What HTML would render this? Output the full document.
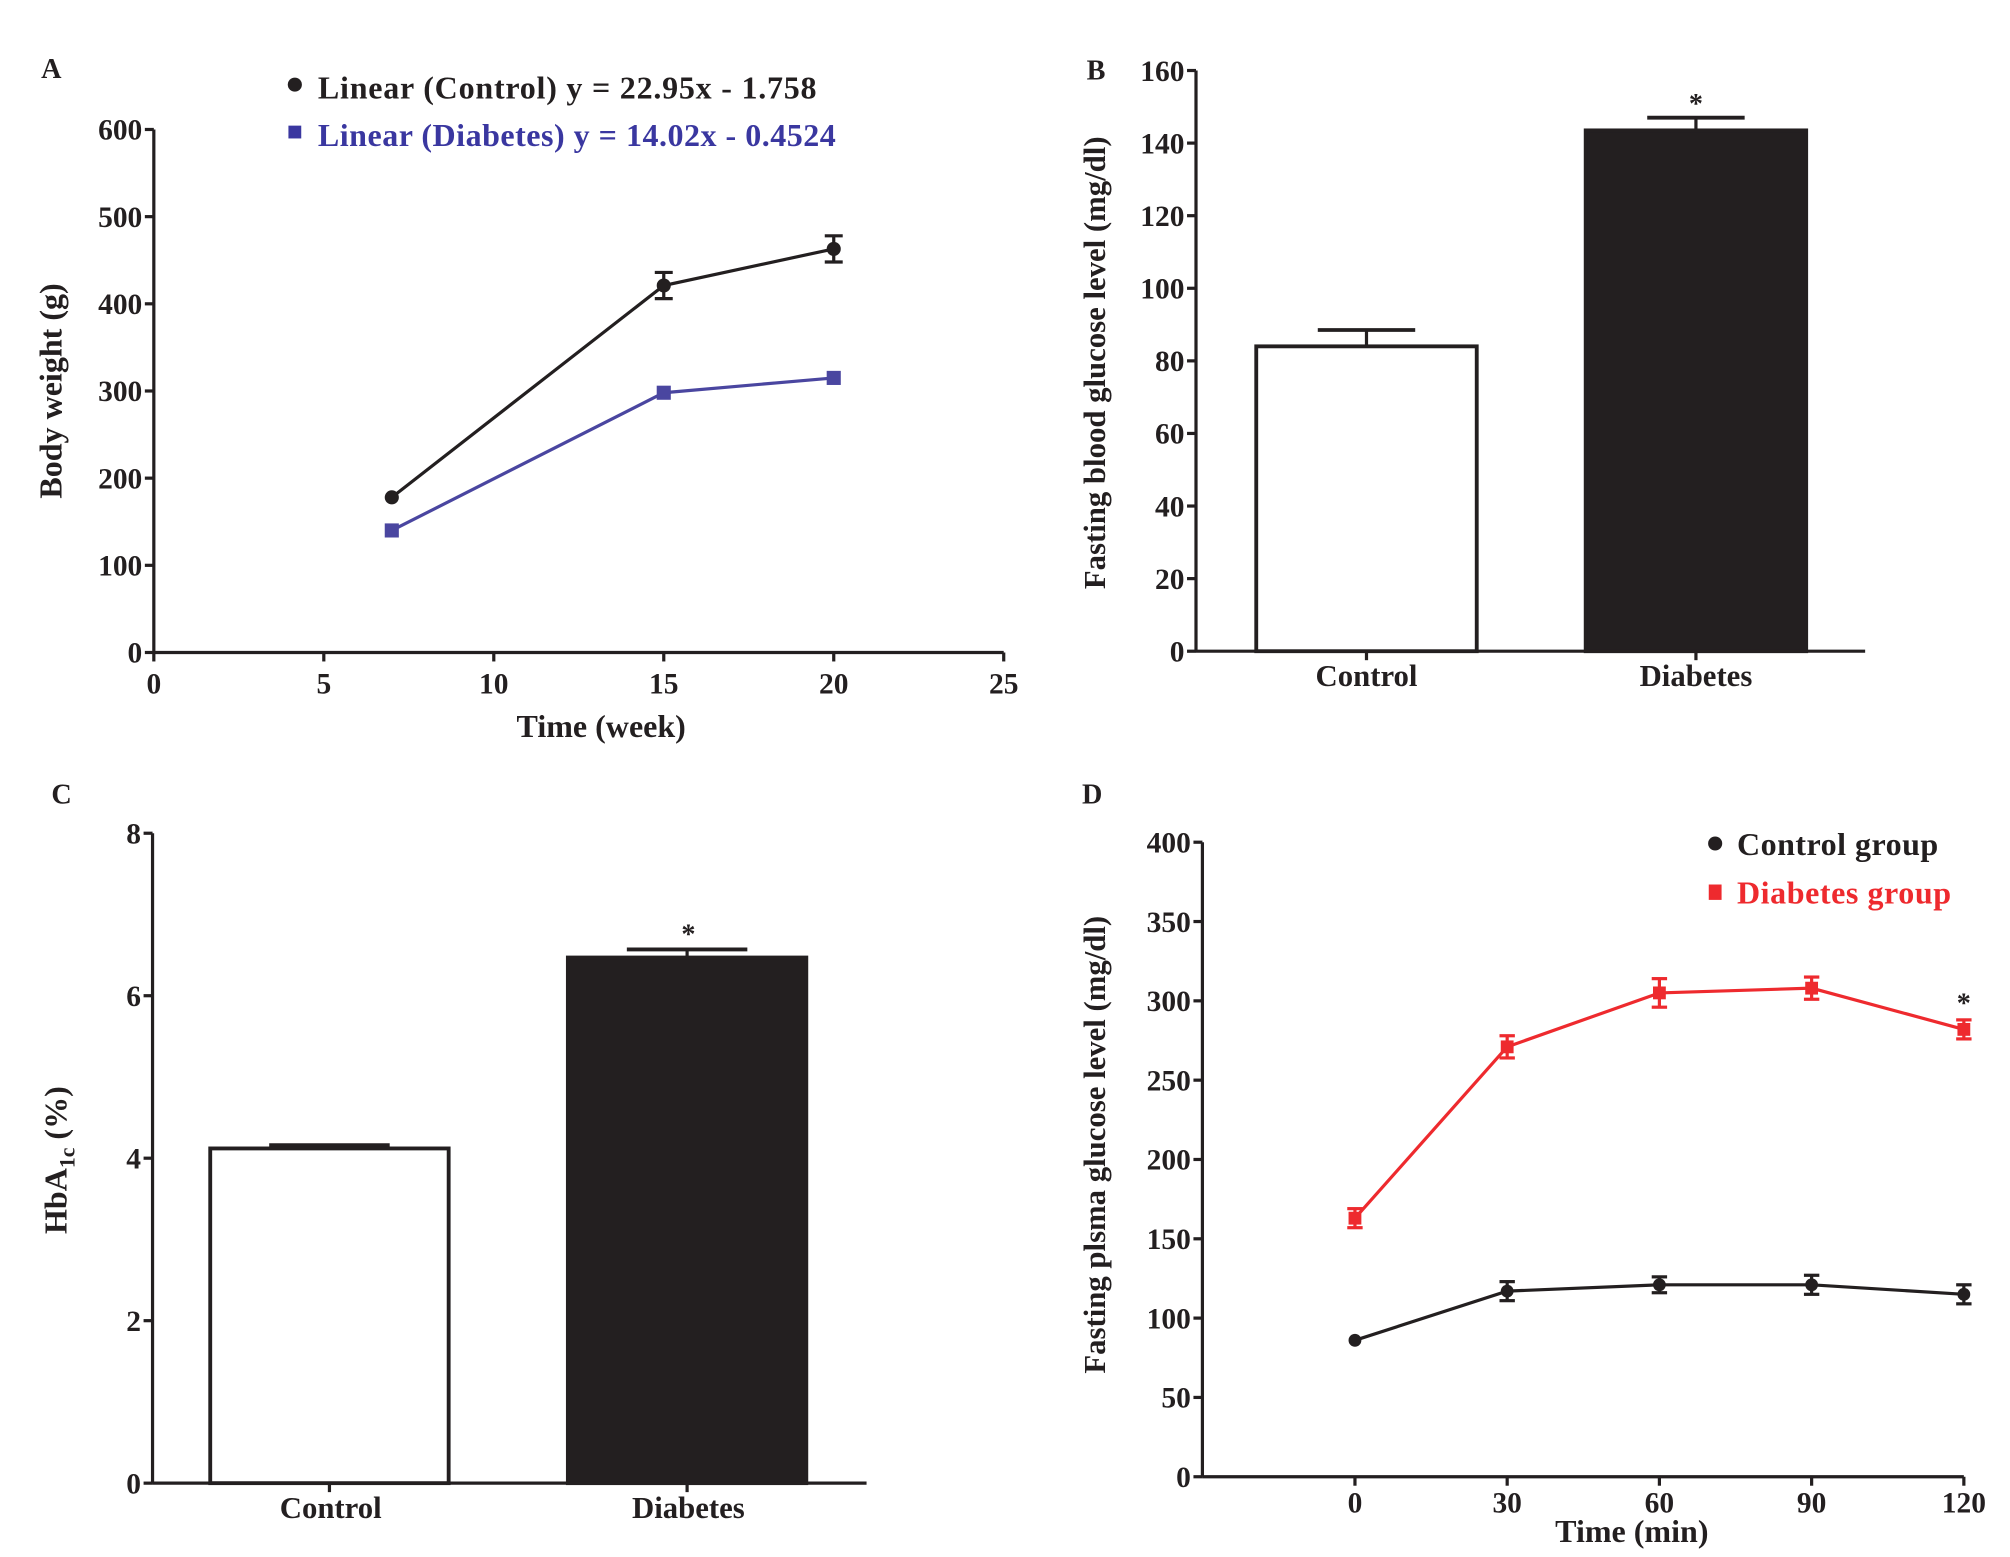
<!DOCTYPE html>
<html><head><meta charset="utf-8"><style>
html,body{margin:0;padding:0;background:#fff;}
svg{display:block;font-family:"Liberation Serif",serif;font-weight:bold;}
</style></head><body>
<svg id="fig" width="2010" height="1557" viewBox="0 0 1568 1214.6" xmlns="http://www.w3.org/2000/svg"></svg>
<script>
// Panel A data
const aWeeks = [7, 15, 20];
const aControl = [178, 421, 463];
const aControlErr = [4, 15, 15];
const aDiabetes = [140, 298, 315];
const aXTicks = [0, 5, 10, 15, 20, 25];
const aYTicks = [0, 100, 200, 300, 400, 500, 600];
// Panel B data
const bCategories = ["Control", "Diabetes"];
const bValues = [84, 143.5];
const bErr = [4.5, 3.5];
const bYTicks = [0, 20, 40, 60, 80, 100, 120, 140, 160];
// Panel C data
const cCategories = ["Control", "Diabetes"];
const cValues = [4.12, 6.47];
const cErr = [0.04, 0.1];
const cYTicks = [0, 2, 4, 6, 8];
// Panel D data
const dTimes = [0, 30, 60, 90, 120];
const dControl = [86, 117, 121, 121, 115];
const dControlErr = [2, 6, 5, 6, 6];
const dDiabetes = [163, 271, 305, 308, 282];
const dDiabetesErr = [6, 7, 9, 7, 6];
const dXTicks = [0, 30, 60, 90, 120];
const dYTicks = [0, 50, 100, 150, 200, 250, 300, 350, 400];

const NS = "http://www.w3.org/2000/svg";
const svg = document.getElementById("fig");
function mk(tag, attrs, parent, text){
  const e = document.createElementNS(NS, tag);
  for (const k in attrs) e.setAttribute(k, attrs[k]);
  if (text !== undefined) e.textContent = text;
  (parent || svg).appendChild(e);
  return e;
}
function lin(d0, d1, r0, r1){ return v => r0 + (v - d0) * (r1 - r0) / (d1 - d0); }
function line(x1,y1,x2,y2,stroke,w,parent){ return mk("line",{x1,y1,x2,y2,stroke,"stroke-width":w},parent); }
function errbar(x,yTop,yBot,cap,color,parent){
  line(x,yTop,x,yBot,color,2.5,parent);
  line(x-cap,yTop,x+cap,yTop,color,2.5,parent);
  line(x-cap,yBot,x+cap,yBot,color,2.5,parent);
}
function yAxis(g, x, sy, ticks, yTop, yBot, fs){
  line(x, yTop, x, yBot, "#231f20", 2.5, g);
  ticks.forEach(t => {
    const y = sy(t);
    line(x-7, y, x, y, "#231f20", 2.5, g);
    const tl = mk("text",{x:x-9,y:y+8,"text-anchor":"end","font-size":fs,fill:"#231f20"},g,String(t));
    
    
  });
}
function label(g, txt, x, y, fs, name, anchor, rot, color, tl){
  const attrs = {x, y, "font-size":fs, fill: color || "#231f20", "text-anchor": anchor || "middle"};
  if (rot) attrs.transform = "rotate(-90 "+x+" "+y+")";
  if (tl) { attrs.textLength = tl; attrs.lengthAdjust = "spacing"; }
  const t = mk("text", attrs, g, txt);
  
  
  return t;
}

// ===== Panel A =====
(function(){
  const g = mk("g",{});
  
  
  const sx = lin(0,25,120,783), sy = lin(0,600,509,101);
  label(g,"A",40,61,22,"panel-a-letter");
  yAxis(g,120,sy,aYTicks,101,509,23);
  line(120,509,783,509,"#231f20",2.5,g);
  aXTicks.forEach(t => {
    line(sx(t),509,sx(t),516,"#231f20",2.5,g);
    label(g,String(t),sx(t),541,23,"x-tick-label");
  });
  label(g,"Time (week)",469,575,25,"x-axis-title");
  label(g,"Body weight (g)",48,305,25,"y-axis-title","middle",true);
  const pc = aWeeks.map((w,i)=>sx(w)+","+sy(aControl[i])).join(" ");
  const l1 = mk("polyline",{points:pc,fill:"none",stroke:"#231f20","stroke-width":2.5},g);
  
  
  aWeeks.forEach((w,i)=>{
    if (aControlErr[i] > 5) errbar(sx(w), sy(aControl[i]+aControlErr[i]), sy(aControl[i]-aControlErr[i]), 7, "#231f20", g);
    const c = mk("circle",{cx:sx(w),cy:sy(aControl[i]),r:5.5,fill:"#231f20"},g);
    
    
  });
  const pd = aWeeks.map((w,i)=>sx(w)+","+sy(aDiabetes[i])).join(" ");
  const l2 = mk("polyline",{points:pd,fill:"none",stroke:"#4a46a0","stroke-width":2.5},g);
  
  
  aWeeks.forEach((w,i)=>{
    const r = mk("rect",{x:sx(w)-5.5,y:sy(aDiabetes[i])-5.5,width:11,height:11,fill:"#4a46a0"},g);
    
    
  });
  const lc = mk("circle",{cx:230,cy:66,r:5.5,fill:"#231f20"},g);
  
  
  label(g,"Linear (Control)  y = 22.95x - 1.758",248,77,25,"legend-control","start",false,null,389);
  const ld = mk("rect",{x:225,y:98,width:10,height:10,fill:"#3a37a0"},g);
  
  
  label(g,"Linear (Diabetes) y = 14.02x - 0.4524",248,114,25,"legend-diabetes","start",false,"#3a37a0",404);
})();

// ===== Panel B =====
(function(){
  const g = mk("g",{});
  
  
  const sy = lin(0,160,508,55);
  const centers = [1066, 1323], bw = 172;
  label(g,"B",855,62,22,"panel-b-letter");
  yAxis(g,933,sy,bYTicks,55,508,23);
  line(933,508,1455,508,"#231f20",2.5,g);
  bCategories.forEach((c,i)=>{
    const x = centers[i];
    errbar(x, sy(bValues[i]+bErr[i]), sy(bValues[i]), 0, "#231f20", g);
    line(x-38, sy(bValues[i]+bErr[i]), x+38, sy(bValues[i]+bErr[i]), "#231f20", 3, g);
    const r = mk("rect",{x:x-bw/2,y:sy(bValues[i]),width:bw,height:508-sy(bValues[i]),fill:i?"#231f20":"#fff",stroke:"#231f20","stroke-width":3},g);
    
    
    line(x,508,x,515,"#231f20",2.5,g);
    label(g,c,x,535,24,"x-tick-label");
  });
  label(g,"*",1323,88,22,"significance-star");
  label(g,"Fasting blood glucose level (mg/dl)",862,283,24,"y-axis-title","middle",true);
})();

// ===== Panel C =====
(function(){
  const g = mk("g",{});
  
  
  const sy = lin(0,8,1157,650);
  const centers = [257, 536], bw = 186;
  label(g,"C",48,627,22,"panel-c-letter");
  yAxis(g,119,sy,cYTicks,650,1157,23);
  line(119,1157,676,1157,"#231f20",2.5,g);
  cCategories.forEach((c,i)=>{
    const x = centers[i];
    const top = sy(cValues[i]+cErr[i]);
    line(x,top,x,sy(cValues[i]),"#231f20",2.5,g);
    line(x-47,top,x+47,top,"#231f20",3,g);
    const r = mk("rect",{x:x-bw/2,y:sy(cValues[i]),width:bw,height:1157-sy(cValues[i]),fill:i?"#231f20":"#fff",stroke:"#231f20","stroke-width":3},g);
    
    
    line(x,1157,x,1164,"#231f20",2.5,g);
    label(g,c,x+1,1184,24,"x-tick-label");
  });
  label(g,"*",537,736,22,"significance-star");
  const t = mk("text",{x:52,y:905,"font-size":25,fill:"#231f20","text-anchor":"middle",transform:"rotate(-90 52 905)"},g);
  
  
  t.innerHTML = 'HbA<tspan font-size="17" dy="6">1c</tspan><tspan dy="-6"> (%)</tspan>';
})();

// ===== Panel D =====
(function(){
  const g = mk("g",{});
  
  
  const sx = lin(0,120,1057,1532), sy = lin(0,400,1152,657);
  label(g,"D",852,627,22,"panel-d-letter");
  yAxis(g,938,sy,dYTicks,657,1152,23);
  line(938,1152,1532,1152,"#231f20",2.5,g);
  dXTicks.forEach(t=>{
    line(sx(t),1152,sx(t),1159,"#231f20",2.5,g);
    label(g,String(t),sx(t),1180,23,"x-tick-label");
  });
  label(g,"Time (min)",1273,1203,25,"x-axis-title");
  label(g,"Fasting plsma glucose level (mg/dl)",862,893,24,"y-axis-title","middle",true);
  const pc = dTimes.map((t,i)=>sx(t)+","+sy(dControl[i])).join(" ");
  const l1 = mk("polyline",{points:pc,fill:"none",stroke:"#231f20","stroke-width":2.5},g);
  
  
  dTimes.forEach((t,i)=>{
    if (dControlErr[i] > 3) errbar(sx(t), sy(dControl[i]+dControlErr[i]), sy(dControl[i]-dControlErr[i]), 6, "#231f20", g);
    const c = mk("circle",{cx:sx(t),cy:sy(dControl[i]),r:5,fill:"#231f20"},g);
    
    
  });
  const pd = dTimes.map((t,i)=>sx(t)+","+sy(dDiabetes[i])).join(" ");
  const l2 = mk("polyline",{points:pd,fill:"none",stroke:"#ee2a2e","stroke-width":2.5},g);
  
  
  dTimes.forEach((t,i)=>{
    errbar(sx(t), sy(dDiabetes[i]+dDiabetesErr[i]), sy(dDiabetes[i]-dDiabetesErr[i]), 6, "#ee2a2e", g);
    const r = mk("rect",{x:sx(t)-5,y:sy(dDiabetes[i])-5,width:10,height:10,fill:"#ee2a2e"},g);
    
    
  });
  label(g,"*",1532,790,22,"significance-star");
  const lc = mk("circle",{cx:1338,cy:658,r:5.5,fill:"#231f20"},g);
  
  
  label(g,"Control group",1355,667,25,"legend-control","start",false,null,157);
  const ld = mk("rect",{x:1333,y:690,width:10,height:12,fill:"#ee2a2e"},g);
  
  
  label(g,"Diabetes group",1355,705,25,"legend-diabetes","start",false,"#ee2a2e",167);
})();
</script>
</body></html>
